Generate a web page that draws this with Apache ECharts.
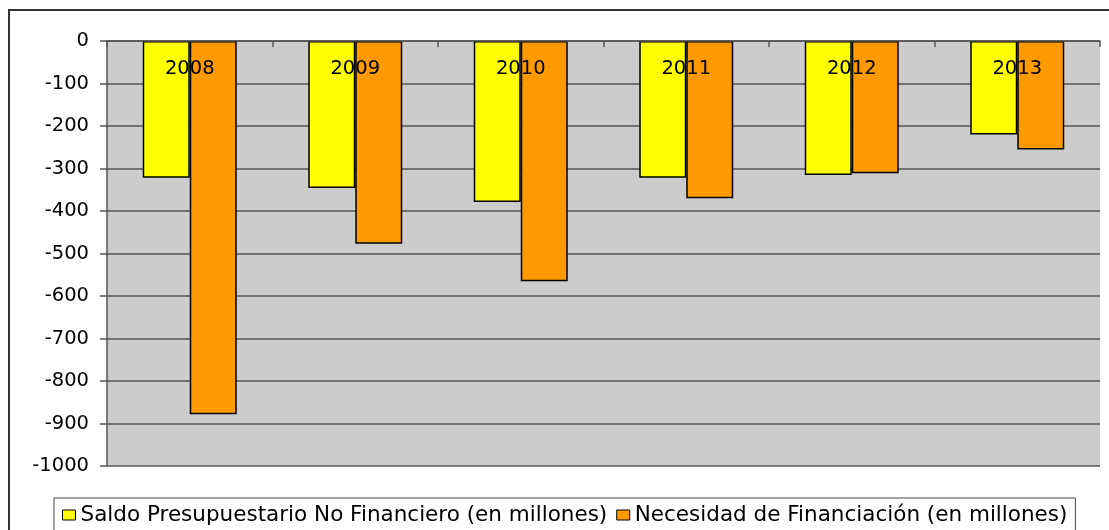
<!DOCTYPE html>
<html>
<head>
<meta charset="utf-8">
<script src="https://cdn.jsdelivr.net/npm/echarts@6/dist/echarts.min.js"></script>
<style>
  html, body { margin: 0; padding: 0; background: #fff; }
  #chart { width: 1109px; height: 530px; }
</style>
</head>
<body>
<div id="chart"></div>
<script>
// años y valores (millones)
const years = ['2008', '2009', '2010', '2011', '2012', '2013']
const saldo = [-322, -346, -379, -322, -315, -220]
const necesidad = [-878, -477, -565, -370, -311, -255]
const yMin = -1000
const yMax = 0
const yStep = 100

// el original está estirado en horizontal, DejaVu Sans se le parece más
const font = 'DejaVu Sans, Liberation Sans, sans-serif'

const myChart = echarts.init(document.getElementById('chart'))
const option = {
  backgroundColor: '#fff',
  animation: false,
  graphic: [
    {
      // marco exterior del gráfico
      type: 'rect',
      shape: {x: 9, y: 10, width: 1110, height: 540},
      style: {fill: 'none', stroke: '#333', lineWidth: 2},
      silent: true
    }
  ],
  grid: {
    left: 107,
    right: 9,
    top: 41,
    bottom: 64,
    show: true,
    backgroundColor: '#cccccc',
    borderWidth: 0
  },
  legend: {
    left: 54,
    top: 498,
    padding: [6, 8, 10, 8],
    borderColor: '#444',
    borderWidth: 1,
    backgroundColor: '#fff',
    itemWidth: 13,
    itemHeight: 10,
    itemGap: 9,
    icon: 'rect',
    textStyle: {
      fontFamily: font,
      fontSize: 21.5,
      color: '#000'
    },
    data: [
      {name: 'Saldo Presupuestario No Financiero (en millones)', itemStyle: {color: '#FFFF00', borderColor: '#000', borderWidth: 1}},
      {name: 'Necesidad de Financiación (en millones)', itemStyle: {color: '#FF9900', borderColor: '#000', borderWidth: 1}}
    ]
  },
  xAxis: {
    type: 'category',
    data: years,
    position: 'top',
    axisLine: {onZero: false, lineStyle: {color: '#555', width: 1.5}},
    axisTick: {show: true, inside: true, length: 6, lineStyle: {color: '#555', width: 1.5}},
    axisLabel: {
      inside: true,
      fontFamily: font,
      fontSize: 19.5,
      color: '#000',
      margin: 18
    },
    splitLine: {show: false},
    z: 10
  },
  yAxis: {
    type: 'value',
    min: yMin,
    max: yMax,
    interval: yStep,
    axisLine: {show: true, lineStyle: {color: '#555', width: 1.5}},
    axisTick: {show: true, length: 7, lineStyle: {color: '#555', width: 1.5}},
    axisLabel: {
      fontFamily: font,
      fontSize: 19.5,
      color: '#000',
      margin: 18,
      formatter: v => String(v)
    },
    splitLine: {show: true, lineStyle: {color: '#555', width: 1.5}}
  },
  series: [
    {
      name: 'Saldo Presupuestario No Financiero (en millones)',
      type: 'bar',
      data: saldo,
      barWidth: 47,
      barGap: '0%',
      itemStyle: {color: '#FFFF00', borderColor: '#000', borderWidth: 1.5}
    },
    {
      name: 'Necesidad de Financiación (en millones)',
      type: 'bar',
      data: necesidad,
      barWidth: 47,
      barGap: '0%',
      itemStyle: {color: '#FF9900', borderColor: '#000', borderWidth: 1.5}
    }
  ]
}
myChart.setOption(option)
</script>
</body>
</html>
